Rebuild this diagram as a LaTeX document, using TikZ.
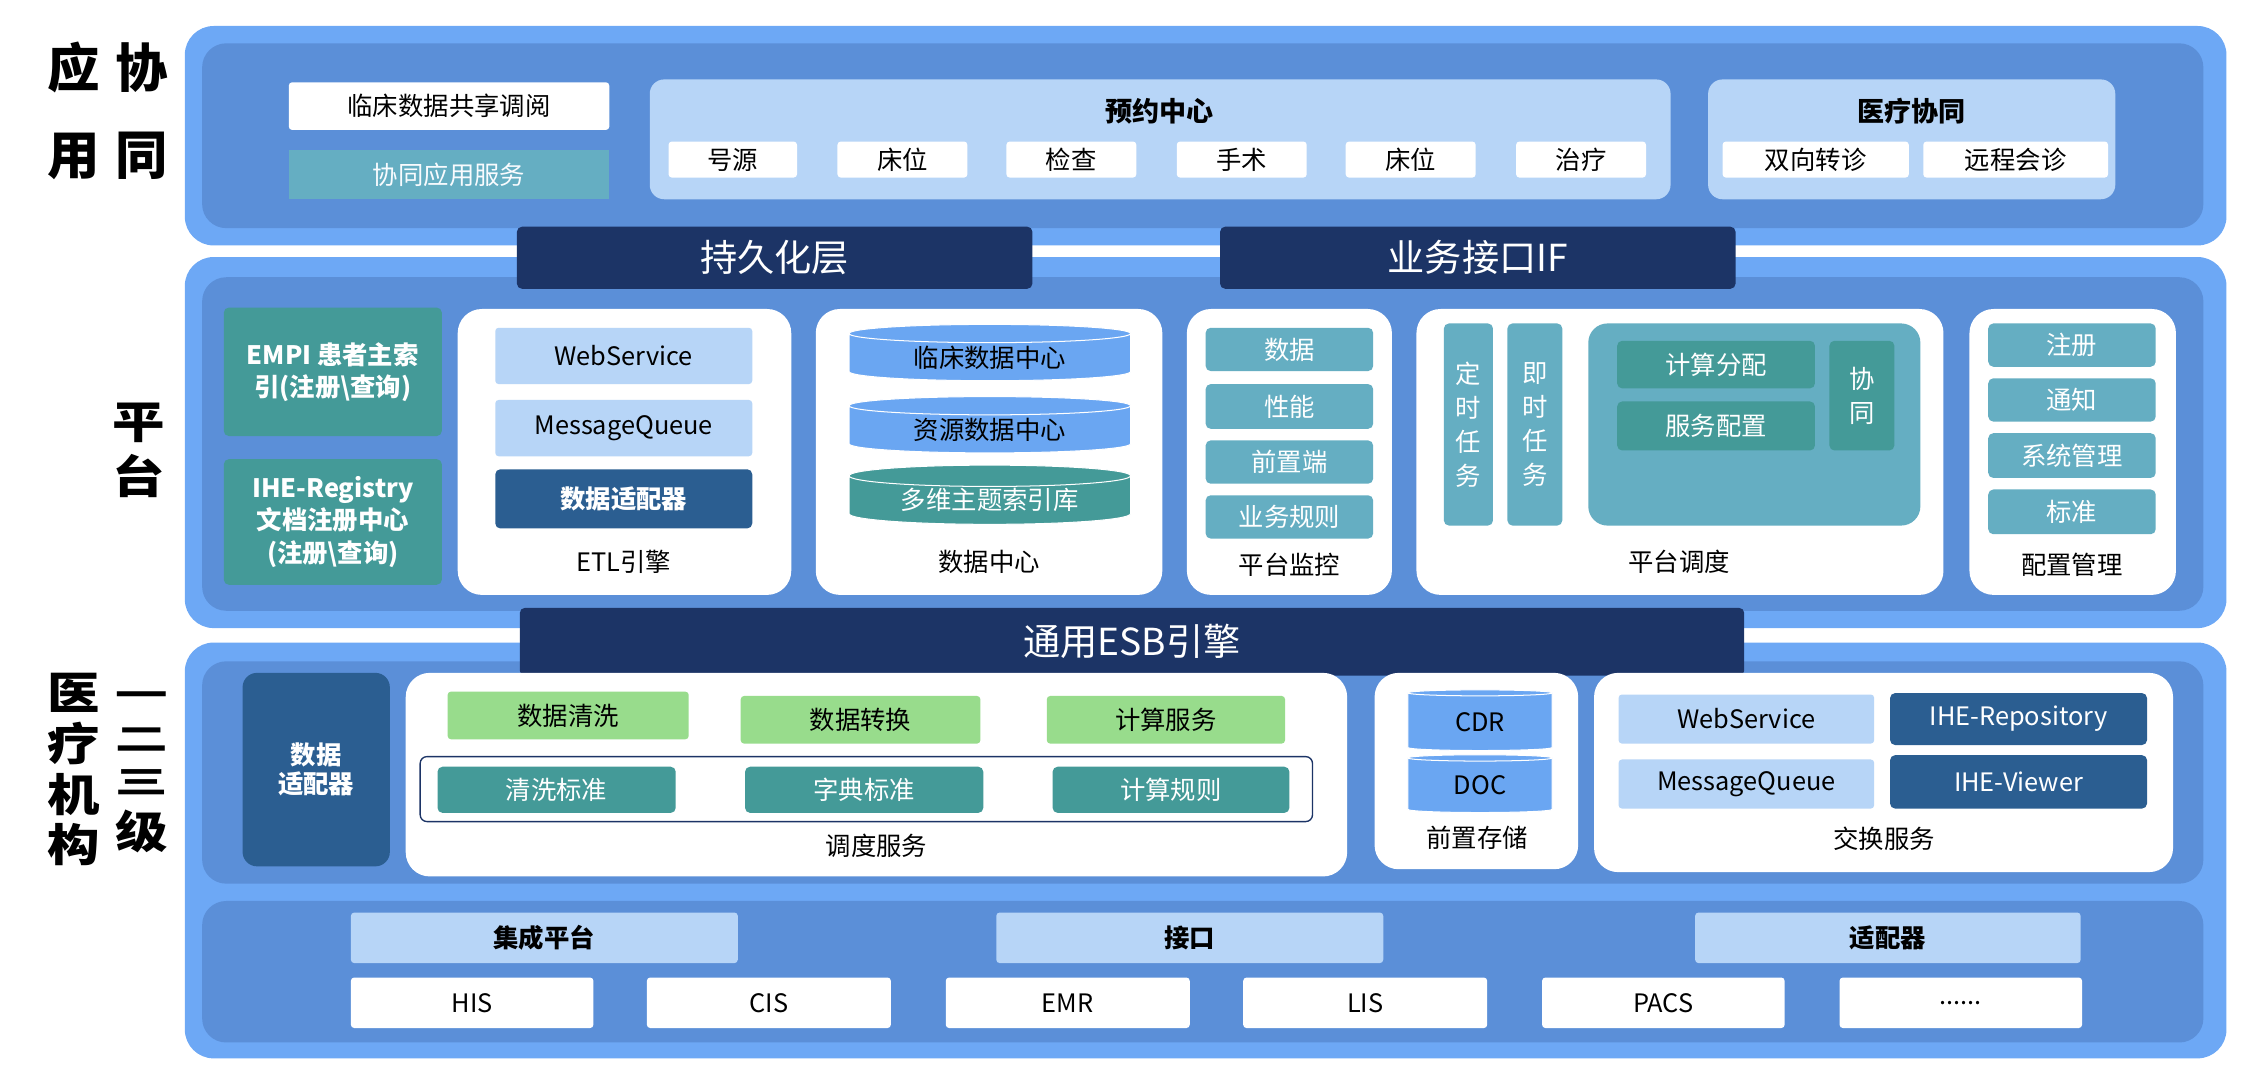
\documentclass[tikz,border=0pt]{standalone}
\usepackage{fontspec}
\setmainfont{Noto Sans CJK SC}
\usetikzlibrary{shapes.geometric}
\definecolor{outerc}{HTML}{6DA8F5}
\definecolor{innerc}{HTML}{5B8FD8}
\definecolor{lblue}{HTML}{B7D5F7}
\definecolor{teal}{HTML}{449A98}
\definecolor{lteal}{HTML}{65AEC2}
\definecolor{dblue}{HTML}{2B5E91}
\definecolor{navy}{HTML}{1C3466}
\definecolor{green}{HTML}{98DC8C}
\definecolor{cylb}{HTML}{6AA6F2}
\newcommand\bx[7]{\node[#6,minimum width={(#4-#2)*0.03cm},minimum height={(#5-#3)*0.03cm}] (#1) at ({(#2+#4)/2},{-(#3+#5)/2}) {#7};}
\begin{document}
\begin{tikzpicture}[x=0.03cm,y=0.03cm,
 base/.style={inner sep=0,outer sep=0,align=center,font=\fontsize{15}{17}\selectfont},
 outer/.style={base,fill=outerc,rounded corners=0.6cm},
 inner/.style={base,fill=innerc,rounded corners=0.5cm},
 wpanel/.style={base,fill=white,rounded corners=0.5cm},
 wbox/.style={base,fill=white,rounded corners=2pt},
 lb/.style={base,fill=lblue,rounded corners=2pt},
 lbp/.style={base,fill=lblue,rounded corners=0.3cm},
 tl/.style={base,fill=teal,text=white,rounded corners=3pt},
 ltl/.style={base,fill=lteal,text=white,rounded corners=3pt},
 db/.style={base,fill=dblue,text=white,rounded corners=3pt,font=\fontsize{15}{17}\selectfont\bfseries},
 gr/.style={base,fill=green,rounded corners=2pt},
 banner/.style={base,fill=navy,text=white,rounded corners=3pt,font=\fontsize{22}{24}\selectfont},
 big/.style={inner sep=0,font=\fontsize{31}{31}\selectfont\bfseries},
 lbl/.style={inner sep=0,font=\fontsize{15}{17}\selectfont},
 cyl/.style={base,shape=cylinder,shape border rotate=90,aspect=0.12,draw=white,line width=0.6pt,fill=#1}]
\useasboundingbox (0,0) rectangle (1568,-749);
% left labels
\node[big] (l1) at (51,-47) {应};
\node[big] (l2) at (51,-108) {用};
\node[big] (l3) at (98,-47) {协};
\node[big] (l4) at (98,-108) {同};
\node[big] (l5) at (96,-293) {\scalebox{1}[0.85]{平}};
\node[big] (l6) at (96,-330) {\scalebox{1}[0.85]{台}};
\node[big] (l7) at (51,-480) {\scalebox{1}[0.85]{医}};
\node[big] (l8) at (51,-515) {\scalebox{1}[0.85]{疗}};
\node[big] (l9) at (51,-550) {\scalebox{1}[0.85]{机}};
\node[big] (l10) at (51,-585) {\scalebox{1}[0.85]{构}};
\node[big] (l11) at (98,-484) {\scalebox{1}[0.6]{一}};
\node[big] (l12) at (98,-512) {\scalebox{1}[0.6]{二}};
\node[big] (l13) at (98,-542) {\scalebox{1}[0.6]{三}};
\node[big] (l14) at (98,-576) {\scalebox{1}[0.85]{级}};
% top band
\bx{o1}{128}{18}{1542}{170}{outer}{}
\bx{i1}{140}{30}{1526}{158}{inner}{}
\bx{a1}{200}{57}{422}{90}{wbox}{临床数据共享调阅}
\bx{a2}{200}{104}{422}{138}{base,fill=lteal,text=white!90!lblue}{协同应用服务}
\bx{yy}{450}{55}{1157}{138}{lbp}{}
\node[lbl,font=\fontsize{16}{18}\selectfont\bfseries] (yyt) at (803,-77) {预约中心};
\bx{y1}{463}{98}{552}{123}{wbox}{号源}
\bx{y2}{580}{98}{670}{123}{wbox}{床位}
\bx{y3}{697}{98}{787}{123}{wbox}{检查}
\bx{y4}{815}{98}{905}{123}{wbox}{手术}
\bx{y5}{932}{98}{1022}{123}{wbox}{床位}
\bx{y6}{1050}{98}{1140}{123}{wbox}{治疗}
\bx{yl}{1183}{55}{1465}{138}{lbp}{}
\node[lbl,font=\fontsize{16}{18}\selectfont\bfseries] (ylt) at (1324,-77) {医疗协同};
\bx{z1}{1193}{98}{1322}{123}{wbox}{双向转诊}
\bx{z2}{1332}{98}{1460}{123}{wbox}{远程会诊}
% middle band
\bx{o2}{128}{178}{1542}{435}{outer}{}
\bx{i2}{140}{192}{1526}{423}{inner}{}
\bx{b1}{358}{157}{715}{200}{banner}{持久化层}
\bx{b2}{845}{157}{1202}{200}{banner}{业务接口IF}
\bx{e1}{155}{213}{306}{302}{tl,font=\fontsize{15}{19}\selectfont\bfseries}{EMPI 患者主索\\引(注册\textbackslash 查询)}
\bx{e2}{155}{318}{306}{405}{tl,font=\fontsize{15}{19}\selectfont\bfseries}{IHE-Registry\\文档注册中心\\(注册\textbackslash 查询)}
\bx{etl}{317}{214}{548}{412}{wpanel}{}
\bx{w1}{343}{227}{521}{266}{lb}{WebService}
\bx{w2}{343}{277}{521}{316}{lb}{MessageQueue}
\bx{w3}{343}{325}{521}{366}{db}{数据适配器}
\node[lbl] (etlt) at (432,-389) {ETL引擎};
\bx{dc}{565}{214}{805}{412}{wpanel}{}
\bx{c1}{588}{228}{783}{267}{cyl=cylb}{临床数据中心}
\bx{c2}{588}{278}{783}{317}{cyl=cylb}{资源数据中心}
\bx{c3}{588}{326}{783}{367}{cyl=teal,text=white}{多维主题索引库}
\node[lbl] (dct) at (685,-389) {数据中心};
\bx{pm}{822}{214}{964}{412}{wpanel}{}
\bx{p1}{835}{227}{951}{257}{ltl}{数据}
\bx{p2}{835}{266}{951}{297}{ltl}{性能}
\bx{p3}{835}{305}{951}{335}{ltl}{前置端}
\bx{p4}{835}{343}{951}{373}{ltl}{业务规则}
\node[lbl] (pmt) at (893,-391) {平台监控};
\bx{pd}{981}{214}{1346}{412}{wpanel}{}
\bx{d1}{1000}{224}{1034}{364}{ltl,font=\fontsize{15}{20}\selectfont}{定\\时\\任\\务}
\bx{d2}{1044}{224}{1082}{364}{ltl,font=\fontsize{15}{20}\selectfont}{即\\时\\任\\务}
\bx{d3}{1100}{224}{1330}{364}{base,fill=lteal,rounded corners=0.4cm}{}
\bx{d4}{1120}{236}{1257}{269}{tl}{计算分配}
\bx{d5}{1120}{278}{1257}{312}{tl}{服务配置}
\bx{d6}{1267}{236}{1312}{312}{tl,font=\fontsize{15}{20}\selectfont}{协\\同}
\node[lbl] (pdt) at (1163,-389) {平台调度};
\bx{cg}{1364}{214}{1507}{412}{wpanel}{}
\bx{g1}{1377}{224}{1493}{254}{ltl}{注册}
\bx{g2}{1377}{262}{1493}{292}{ltl}{通知}
\bx{g3}{1377}{300}{1493}{331}{ltl}{系统管理}
\bx{g4}{1377}{339}{1493}{370}{ltl}{标准}
\node[lbl] (cgt) at (1435,-391) {配置管理};
% bottom band
\bx{o3}{128}{445}{1542}{733}{outer}{}
\bx{i3}{140}{458}{1526}{612}{inner}{}
\bx{i4}{140}{624}{1526}{722}{inner}{}
\bx{b3}{360}{421}{1208}{468}{banner}{通用ESB引擎}
\bx{s0}{168}{466}{270}{600}{db,rounded corners=0.3cm}{数据\\适配器}
\bx{sd}{281}{466}{933}{607}{wpanel}{}
\bx{s1}{310}{479}{477}{512}{gr}{数据清洗}
\bx{s2}{513}{482}{679}{515}{gr}{数据转换}
\bx{s3}{725}{482}{890}{515}{gr}{计算服务}
\bx{sb}{291}{524}{909}{569}{base,draw=navy,line width=0.8pt,rounded corners=4pt}{}
\bx{s4}{303}{531}{468}{563}{tl}{清洗标准}
\bx{s5}{516}{531}{681}{563}{tl}{字典标准}
\bx{s6}{729}{531}{893}{563}{tl}{计算规则}
\node[lbl] (sdt) at (607,-586) {调度服务};
\bx{qz}{952}{466}{1093}{602}{wpanel}{}
\bx{q1}{975}{479}{1075}{521}{cyl=cylb}{CDR}
\bx{q2}{975}{524}{1075}{564}{cyl=cylb}{DOC}
\node[lbl] (qzt) at (1023,-580) {前置存储};
\bx{jh}{1104}{466}{1505}{604}{wpanel}{}
\bx{x1}{1121}{481}{1298}{515}{lb}{WebService}
\bx{x2}{1121}{526}{1298}{560}{lb}{MessageQueue}
\bx{x3}{1309}{480}{1487}{516}{db,font=\fontsize{15}{17}\selectfont}{IHE-Repository}
\bx{x4}{1309}{523}{1487}{560}{db,font=\fontsize{15}{17}\selectfont}{IHE-Viewer}
\node[lbl] (jht) at (1305,-581) {交换服务};
\bx{h1}{243}{632}{511}{667}{lb,font=\fontsize{15}{17}\selectfont\bfseries}{集成平台}
\bx{h2}{690}{632}{958}{667}{lb,font=\fontsize{15}{17}\selectfont\bfseries}{接口}
\bx{h3}{1174}{632}{1441}{667}{lb,font=\fontsize{15}{17}\selectfont\bfseries}{适配器}
\bx{k1}{243}{677}{411}{712}{wbox}{HIS}
\bx{k2}{448}{677}{617}{712}{wbox}{CIS}
\bx{k3}{655}{677}{824}{712}{wbox}{EMR}
\bx{k4}{861}{677}{1030}{712}{wbox}{LIS}
\bx{k5}{1068}{677}{1236}{712}{wbox}{PACS}
\bx{k6}{1274}{677}{1442}{712}{wbox}{......}
\end{tikzpicture}
\end{document}
